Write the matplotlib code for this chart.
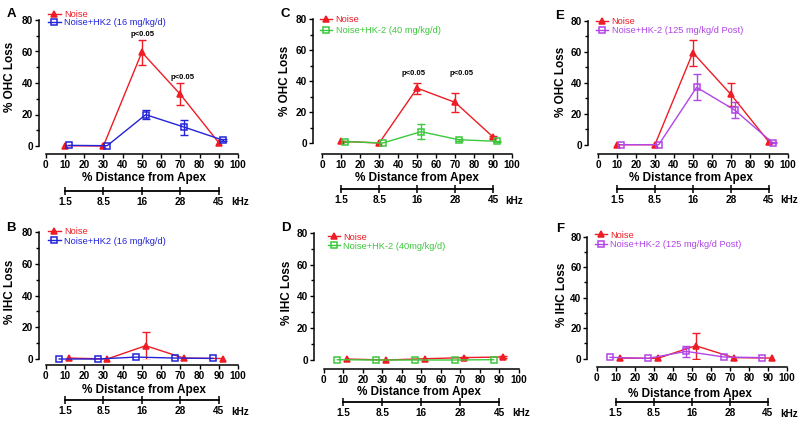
import numpy as np
import matplotlib
matplotlib.use("Agg")
import matplotlib.pyplot as plt
from matplotlib.ticker import MultipleLocator

plt.rcParams['font.family'] = ['Liberation Sans', 'DejaVu Sans']

# % distance from apex positions
x_noise_ohc = [10, 30, 50, 70, 90]
x_drug_ohc = [12, 32, 52, 72, 92]
x_noise_ihc = [12, 32, 52, 72, 92]
x_drug_ihc = [7, 27, 47, 67, 87]

# frequency scale under each panel
freq_pos = [10, 30, 50, 70, 90]
freq_labels = ['1.5', '8.5', '16', '28', '45']

# panel A / B : HK2 16 mg/kg/d
a_noise = [0.2, 0.0, 59.5, 32.8, 2.1]
a_noise_err = [0, 0, 8.0, 7.0, 0]
a_drug = [0.4, 0.2, 19.9, 12.0, 3.8]
a_drug_err = [0, 0, 2.9, 4.7, 0.8]
b_noise = [0.6, 0.0, 8.4, 0.5, 0.3]
b_noise_err = [0, 0, 8.8, 0, 0]
b_drug = [0.0, 0.0, 1.2, 0.6, 0.4]
b_drug_err = [0, 0, 0, 0, 0]

# panel C / D : HK-2 40 mg/kg/d
c_noise = [1.1, 0.0, 35.4, 26.2, 3.9]
c_noise_err = [0, 0, 3.5, 6.0, 0.5]
c_drug = [0.9, 0.0, 7.3, 2.1, 1.1]
c_drug_err = [0.5, 0, 4.8, 0.5, 0.3]
d_noise = [0.6, 0.0, 0.8, 1.5, 1.9]
d_noise_err = [0, 0, 0, 0.5, 0.5]
d_drug = [0.2, 0.0, 0.0, 0.0, 0.2]
d_drug_err = [0, 0, 0, 0, 0]

# panel E / F : HK-2 125 mg/kg/d Post
e_noise = [0.0, 0.0, 59.4, 32.5, 1.9]
e_noise_err = [0, 0, 8.4, 7.3, 0]
e_drug = [0.0, 0.0, 37.0, 22.4, 1.3]
e_drug_err = [0, 0, 8.4, 4.9, 0.5]
f_noise = [0.4, 0.2, 8.5, 0.7, 0.4]
f_noise_err = [0, 0, 8.5, 0, 0]
f_drug = [0.9, 0.2, 4.8, 1.1, 0.7]
f_drug_err = [0, 0, 3.6, 0, 0]

red = '#ee1c24'
blue = '#2323d8'
green = '#3cc83c'
purple = '#b145e6'

W, H = 800, 421
fig = plt.figure(figsize=(W / 100, H / 100), dpi=100)


def series(ax, x, y, err, color, marker, mfc):
    x = np.array(x, float)
    y = np.array(y, float)
    err = np.array(err, float)
    ms = 4.6 if marker == '^' else 5.0
    ln, = ax.plot(x, y, '-', color=color, lw=1.0, marker=marker, ms=ms,
                  mfc=mfc, mec=color, mew=1.1, clip_on=False, zorder=3)
    m = err > 0
    if m.any():
        ax.errorbar(x[m], y[m], yerr=err[m], fmt='none', ecolor=color, elinewidth=1.0,
                    capsize=3, capthick=1.0, zorder=2)
    return ln


def panel(letter, box, offs, freq_y, ylab_xy, xlab_xy, leg, letter_xy,
          xn, yn, en, xd, yd, ed, dcolor, dlabel, ylabel, pvals=()):
    x0, x1, ytop, ybot = box
    h_px = ybot - ytop
    ax = fig.add_axes([x0 / W, 1 - ybot / H, (x1 - x0) / W, h_px / H])
    ax.set_xlim(0, 100)
    ax.set_ylim(0, 80)
    for s in ['top', 'right']:
        ax.spines[s].set_visible(False)
    ax.spines['left'].set_position(('outward', offs[0] * 0.72))
    ax.spines['bottom'].set_position(('outward', offs[1] * 0.72))
    for s in ['left', 'bottom']:
        ax.spines[s].set_linewidth(1.1)
    ax.set_xticks(np.arange(0, 101, 10))
    ax.set_yticks(np.arange(0, 81, 20))
    ax.yaxis.set_minor_locator(MultipleLocator(10))
    ax.tick_params(which='major', length=3, width=1.0, labelsize=7.2, pad=1.2)
    ax.tick_params(axis='y', which='minor', length=2, width=1.0)
    for t in ax.get_xticklabels() + ax.get_yticklabels():
        t.set_fontweight('bold')

    h1 = series(ax, xn, yn, en, red, '^', red)
    h2 = series(ax, xd, yd, ed, dcolor, 's', 'none')

    for px, py in pvals:
        ax.text(px, py, 'p<0.05', fontsize=5.5, fontweight='bold', ha='center', va='center')

    ax.set_ylabel(ylabel, fontsize=8.5, fontweight='bold', va='center')
    ax.yaxis.set_label_coords(*ylab_xy)
    ax.set_xlabel('% Distance from Apex', fontsize=8.5, fontweight='bold', va='center')
    ax.xaxis.set_label_coords(*xlab_xy)

    hx, hy1, hy2 = leg
    pitch = (hy1 - hy2) * h_px
    fs = 6.7
    lg = ax.legend([h1, h2], ['Noise', dlabel], loc='center left',
                   bbox_to_anchor=(hx - 6.5 / (x1 - x0), (hy1 + hy2) / 2),
                   frameon=False, fontsize=fs, handlelength=1.3, handletextpad=0.35,
                   borderpad=0, borderaxespad=0, markerscale=0.9,
                   labelspacing=pitch / (fs / 0.72) - 1.2)
    for txt, c in zip(lg.get_texts(), [red, dcolor]):
        txt.set_color(c)

    sec = ax.secondary_xaxis(freq_y)
    sec.set_xticks(freq_pos)
    sec.set_xticklabels(freq_labels)
    sec.spines['bottom'].set_bounds(freq_pos[0], freq_pos[-1])
    sec.spines['bottom'].set_linewidth(1.3)
    sec.tick_params(direction='inout', length=6, width=1.1, labelsize=7.2, pad=1.5)
    for t in sec.get_xticklabels():
        t.set_fontweight('bold')
    ax.text(96.3, freq_y - 11.5 / h_px, 'kHz', transform=ax.get_xaxis_transform(),
            fontsize=7.2, fontweight='bold', ha='left', va='center')

    fig.text(letter_xy[0] / W, 1 - letter_xy[1] / H, letter, fontsize=9.5,
             fontweight='bold', ha='center', va='center')
    return ax


panel('A', (45.7, 238, 20, 146), (6.7, 8), -0.357, (-0.186, 0.55), (0.51, -0.254),
      (0.048, 1.05, 0.97), (11.7, 13.7),
      x_noise_ohc, a_noise, a_noise_err, x_drug_ohc, a_drug, a_drug_err,
      blue, 'Noise+HK2 (16 mg/kg/d)', '% OHC Loss', pvals=[(50.4, 71), (71.2, 43.4)])
panel('B', (45.7, 238, 232.3, 359), (6.7, 6), -0.324, (-0.186, 0.53), (0.51, -0.245),
      (0.048, 1.013, 0.921), (11, 227.7),
      x_noise_ihc, b_noise, b_noise_err, x_drug_ihc, b_drug, b_drug_err,
      blue, 'Noise+HK2 (16 mg/kg/d)', '% IHC Loss')
panel('C', (322.3, 512, 19, 143), (9.3, 10.7), -0.371, (-0.197, 0.5), (0.50, -0.282),
      (0.023, 1.005, 0.90), (285.7, 14),
      x_noise_ohc, c_noise, c_noise_err, x_drug_ohc, c_drug, c_drug_err,
      green, 'Noise+HK-2 (40 mg/kg/d)', '% OHC Loss', pvals=[(48.3, 45), (73.5, 45)])
panel('D', (323.7, 519, 232.7, 360), (9.7, 9), -0.328, (-0.19, 0.53), (0.49, -0.255),
      (0.053, 0.974, 0.885), (285.7, 227.7),
      x_noise_ihc, d_noise, d_noise_err, x_drug_ihc, d_drug, d_drug_err,
      green, 'Noise+HK-2 (40mg/kg/d)', '% IHC Loss')
panel('E', (598, 787.7, 20.7, 144.7), (10, 9.3), -0.357, (-0.197, 0.51), (0.49, -0.271),
      (0.025, 1.0, 0.909), (560, 15.7),
      x_noise_ohc, e_noise, e_noise_err, x_drug_ohc, e_drug, e_drug_err,
      purple, 'Noise+HK-2 (125 mg/kg/d Post)', '% OHC Loss')
panel('F', (596.7, 787, 236.7, 358.7), (9.4, 8), -0.355, (-0.184, 0.52), (0.49, -0.287),
      (0.023, 1.022, 0.926), (560, 229),
      x_noise_ihc, f_noise, f_noise_err, x_drug_ihc, f_drug, f_drug_err,
      purple, 'Noise+HK-2 (125 mg/kg/d Post)', '% IHC Loss')

fig.savefig('out.png', dpi=100)
